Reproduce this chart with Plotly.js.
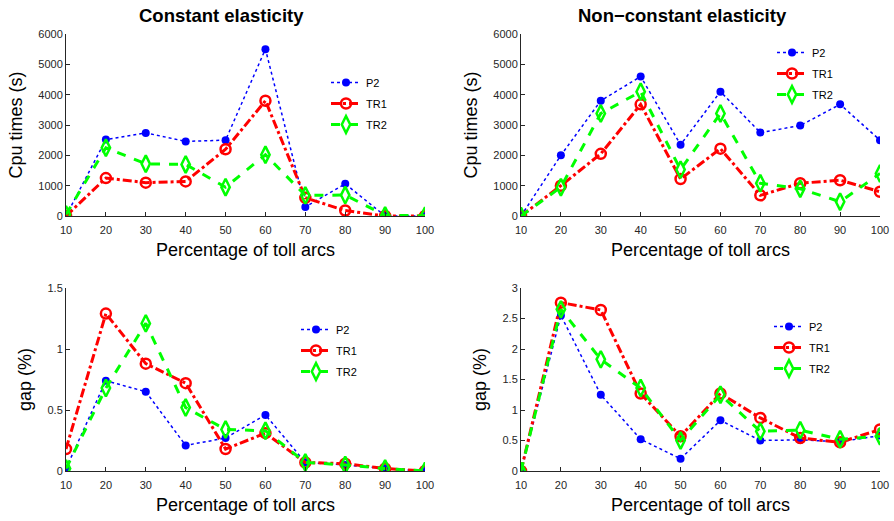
<!DOCTYPE html>
<html>
<head>
<meta charset="utf-8">
<script src="https://cdn.plot.ly/plotly-3.0.1.min.js"></script>
<style>
  html, body { margin: 0; padding: 0; background: #fff; }
  #chart { width: 894px; height: 521px; }
</style>
</head>
<body>
<div id="chart"></div>
<script>
// Percentage of toll arcs (shared x values)
const tollPct = [10, 20, 30, 40, 50, 60, 70, 80, 90, 100];
const xTickLabels = ['10', '20', '30', '40', '50', '60', '70', '80', '90', '100'];

// CPU times (s), constant elasticity
const cpuConstP2  = [0, 2520, 2740, 2460, 2500, 5500, 300, 1060, 0, 0];
const cpuConstTR1 = [0, 1250, 1100, 1140, 2200, 3800, 600, 180, 0, 0];
const cpuConstTR2 = [50, 2250, 1720, 1700, 950, 2020, 680, 690, 20, 10];

// CPU times (s), non-constant elasticity
const cpuNonP2  = [0, 2000, 3800, 4600, 2350, 4100, 2750, 2980, 3680, 2500];
const cpuNonTR1 = [0, 1000, 2050, 3680, 1220, 2220, 680, 1080, 1180, 800];
const cpuNonTR2 = [0, 950, 3380, 4100, 1530, 3380, 1080, 900, 470, 1400];

// Gap (%), constant elasticity
const gapConstP2  = [0.02, 0.74, 0.65, 0.21, 0.27, 0.46, 0.07, 0.05, 0.02, 0.0];
const gapConstTR1 = [0.18, 1.29, 0.88, 0.72, 0.18, 0.31, 0.07, 0.06, 0.02, 0.0];
const gapConstTR2 = [0.02, 0.68, 1.21, 0.52, 0.34, 0.33, 0.07, 0.05, 0.02, 0.0];

// Gap (%), non-constant elasticity
const gapNonP2  = [0, 2.55, 1.25, 0.52, 0.20, 0.83, 0.50, 0.51, 0.48, 0.58];
const gapNonTR1 = [0, 2.76, 2.64, 1.27, 0.57, 1.27, 0.87, 0.54, 0.47, 0.68];
const gapNonTR2 = [0, 2.65, 1.83, 1.36, 0.50, 1.25, 0.65, 0.67, 0.52, 0.57];

const seriesNames = ['P2', 'TR1', 'TR2'];

const FONT = 'Liberation Sans, Arial, sans-serif';
const INK = '#262626';

const styles = {
  P2:  { line: { color: '#0000ff', width: 1.5, dash: 'dot' },
         marker: { symbol: 'circle', size: 8, color: '#0000ff', line: { width: 0 } } },
  TR1: { line: { color: '#ff0000', width: 3, dash: 'dashdot' },
         marker: { symbol: 'circle-open', size: 10, color: '#ff0000', line: { width: 2.5, color: '#ff0000' } } },
  TR2: { line: { color: '#00ff00', width: 3, dash: 'dash' },
         marker: { symbol: 'diamond-tall-open', size: 12, color: '#00ff00', line: { width: 2.5, color: '#00ff00' } } }
};

function makeTraces(values, xa, ya, legendId) {
  return values.map((v, i) => {
    const name = seriesNames[i];
    return {
      type: 'scatter', mode: 'lines+markers',
      x: tollPct, y: v, name: name,
      xaxis: xa, yaxis: ya, legend: legendId, legendgroup: legendId + name,
      line: styles[name].line, marker: styles[name].marker
    };
  });
}

const data = [
  ...makeTraces([cpuConstP2, cpuConstTR1, cpuConstTR2], 'x', 'y', 'legend'),
  ...makeTraces([cpuNonP2, cpuNonTR1, cpuNonTR2], 'x2', 'y2', 'legend2'),
  ...makeTraces([gapConstP2, gapConstTR1, gapConstTR2], 'x3', 'y3', 'legend3'),
  ...makeTraces([gapNonP2, gapNonTR1, gapNonTR2], 'x4', 'y4', 'legend4')
];

const W = 894, H = 521;
const px = v => v / W;
const py = v => 1 - v / H;

function xAxis(domain, anchor) {
  return {
    domain: domain, anchor: anchor, range: [10, 100],
    tickvals: tollPct, ticktext: xTickLabels,
    ticks: 'inside', ticklen: 4, tickwidth: 1, tickcolor: INK,
    ticklabelstandoff: 4,
    showline: true, linecolor: INK, linewidth: 1, mirror: false,
    showgrid: false, zeroline: false, automargin: false,
    tickfont: { family: FONT, size: 11, color: INK },
    title: { text: 'Percentage of toll arcs', standoff: 8,
             font: { family: FONT, size: 18, color: '#000' } }
  };
}

function yAxis(domain, anchor, range, dtick, titleText) {
  return {
    domain: domain, anchor: anchor, range: range, dtick: dtick, tick0: 0,
    ticks: 'inside', ticklen: 4, tickwidth: 1, tickcolor: INK,
    showline: true, linecolor: INK, linewidth: 1, mirror: false,
    showgrid: false, zeroline: false, automargin: false,
    tickfont: { family: FONT, size: 11, color: INK },
    title: { text: titleText, standoff: 11,
             font: { family: FONT, size: 18, color: '#000' } }
  };
}

const colL = [px(66), px(425)];
const colR = [px(521), px(880)];
const rowT = [py(216), py(34)];
const rowB = [py(471), py(288)];

function legendAt(xPix, yPix) {
  return {
    x: px(xPix), y: py(yPix), xanchor: 'left', yanchor: 'top',
    xref: 'paper', yref: 'paper',
    bgcolor: 'rgba(0,0,0,0)', borderwidth: 0,
    font: { family: FONT, size: 11, color: '#000' },
    tracegroupgap: 2, itemwidth: 30
  };
}

const layout = {
  width: W, height: H,
  margin: { l: 0, r: 0, t: 0, b: 0 },
  paper_bgcolor: '#fff', plot_bgcolor: '#fff',
  showlegend: true,
  xaxis:  xAxis(colL, 'y'),
  yaxis:  yAxis(rowT, 'x', [0, 6000], 1000, 'Cpu times (s)'),
  xaxis2: xAxis(colR, 'y2'),
  yaxis2: yAxis(rowT, 'x2', [0, 6000], 1000, 'Cpu times (s)'),
  xaxis3: xAxis(colL, 'y3'),
  yaxis3: yAxis(rowB, 'x3', [0, 1.5], 0.5, 'gap (%)'),
  xaxis4: xAxis(colR, 'y4'),
  yaxis4: yAxis(rowB, 'x4', [0, 3], 0.5, 'gap (%)'),
  legend:  legendAt(326, 68),
  legend2: legendAt(772, 38),
  legend3: legendAt(296, 315),
  legend4: legendAt(769, 312),
  annotations: [
    { text: '<b>Constant elasticity</b>', xref: 'paper', yref: 'paper',
      x: px(221), y: py(15), xanchor: 'center', yanchor: 'middle', showarrow: false,
      font: { family: FONT, size: 18.5, color: '#000' } },
    { text: '<b>Non\u2212constant elasticity</b>', xref: 'paper', yref: 'paper',
      x: px(682), y: py(15), xanchor: 'center', yanchor: 'middle', showarrow: false,
      font: { family: FONT, size: 18.5, color: '#000' } }
  ]
};

Plotly.newPlot('chart', data, layout, { displayModeBar: false, staticPlot: true });
</script>
</body>
</html>
